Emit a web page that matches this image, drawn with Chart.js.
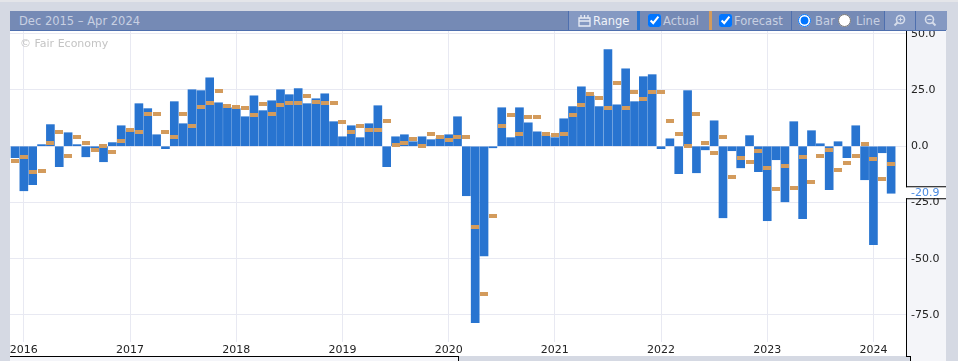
<!DOCTYPE html>
<html>
<head>
<meta charset="utf-8">
<script src="https://cdn.jsdelivr.net/npm/chart.js@4"></script>
<style>
html, body { margin: 0; padding: 0; }
body { width: 958px; height: 361px; overflow: hidden; position: relative; background: #d5d9e3; font-family: "DejaVu Sans", sans-serif; font-size: 11.5px; }
.box { position: absolute; box-sizing: border-box; }
#topo { left: 0; top: 0; width: 958px; height: 2px; background: #e4e5e9; }
#plano { left: 10px; top: 31px; width: 896px; height: 325px; background: #fff; }
#eixoY { left: 906px; top: 31px; width: 40px; height: 330px; background: #f4f5f9; border-left: 1px solid #000; }
#eixoX { left: 10px; top: 356px; width: 449px; height: 5px; background: #f4f5f9; border-top: 1px solid #000; border-right: 1px solid #000; }
#degrau { left: 906px; top: 356px; width: 5px; height: 5px; border-top: 1px solid #000; border-right: 1px solid #000; background: #d5d9e3; }
#grafico { position: absolute; left: 0; top: 0; }
#copy { left: 20px; top: 37px; color: #c4c4c4; font-size: 11px; }
#barra { left: 10px; top: 11px; width: 936px; height: 20px; background: #758ab5; border-bottom: 1px solid #4e6fae; }
#barra span, #barra div, #barra input, #barra svg { position: absolute; }
#barra span { top: 3px; line-height: 14px; color: #c8d0e2; white-space: nowrap; }
#barra input { margin: 0; width: 13px; height: 13px; top: 3px; }
.btn { top: 0; height: 19px; background: #8599c2; border-left: 1px solid #4e6fae; }
.sep { top: 0; width: 1px; height: 19px; background: #4e6fae; }
</style>
</head>
<body>
<div class="box" id="topo"></div>
<div class="box" id="plano"></div>
<div class="box" id="eixoY"></div>
<div class="box" id="eixoX"></div>
<div class="box" id="degrau"></div>
<canvas id="grafico" width="958" height="361"></canvas>
<div class="box" id="copy">© Fair Economy</div>
<div class="box" id="barra">
    <span style="left:9px;font-size:11.5px">Dec 2015 – Apr 2024</span>
    <div class="btn" style="left:558px;width:69px"></div>
    <svg style="left:568px;top:3px" width="13" height="13" viewBox="0 0 13 13"><path d="M1 4h11v8H1zM3 1v3M6.500 1v3M10 1v3M1 7h11" fill="none" stroke="#e8ecf5" stroke-width="1.300"/></svg>
    <span style="left:583px;color:#f0f3f9">Range</span>
    <div style="left:627px;top:0;width:3px;height:19px;background:#2874d0"></div>
    <input type="checkbox" checked style="left:638px">
    <span style="left:653px">Actual</span>
    <div style="left:699px;top:0;width:3px;height:19px;background:#d39b5c"></div>
    <input type="checkbox" checked style="left:709px">
    <span style="left:724px">Forecast</span>
    <div class="sep" style="left:781px"></div>
    <input type="radio" name="tipo" checked style="left:788px">
    <span style="left:805px">Bar</span>
    <input type="radio" name="tipo" style="left:828px">
    <span style="left:846px">Line</span>
    <div class="btn" style="left:874px;width:31px"></div>
    <svg style="left:883px;top:3px" width="13" height="13" viewBox="0 0 13 13"><circle cx="7.500" cy="5.500" r="4" fill="none" stroke="#d5dcea" stroke-width="1.600"/><path d="M4.500 8.500L1.500 11.500" stroke="#d5dcea" stroke-width="2"/><path d="M5.500 5.500h4M7.500 3.500v4" stroke="#d5dcea"/></svg>
    <div class="btn" style="left:905px;width:31px"></div>
    <svg style="left:914px;top:3px" width="13" height="13" viewBox="0 0 13 13"><circle cx="5.500" cy="5.500" r="4" fill="none" stroke="#d5dcea" stroke-width="1.600"/><path d="M8.500 8.500L11.500 11.500" stroke="#d5dcea" stroke-width="2"/><path d="M3.500 5.500h4" stroke="#d5dcea"/></svg>
</div>

<script>
// dados, dez/2015 ate mar/2024

const actualValues = [
    -5.1, -19.8, -17.1, 0.7, 9.6, -9.1, 6, 0.7, -4.7, -0.7, -6.9, 1.6,
    9.1, 6.4, 18.9, 16.7, 5.1, -1.1, 19.8, 10, 25.1, 24.7, 30.4, 19.3,
    17.1, 16.7, 13.1, 22.4, 15.8, 20.2, 25.1, 22.9, 25.6, 18.9, 21.1, 23.3,
    10.9, 4.2, 9.1, 3.8, 10, 18, -9.1, 4.2, 5.1, 2, 4.2, 2.9,
    3.3, 5.1, 13.1, -22, -78.4, -48.7, -0.7, 17.1, 3.8, 17.1, 10.4, 6.4,
    4.7, 3.8, 12.2, 17.6, 26.4, 22.4, 17.6, 42.9, 18.4, 34.4, 19.8, 30.9,
    31.8, -1.1, 3.3, -12.2, 24.7, -11.8, -1.6, 11.3, -31.8, -2, -9.6, 4.7,
    -11.3, -33.1, -6, -24.7, 10.9, -32.2, 6.9, 1.1, -19.3, 2, -5.1, 9.1,
    -14.9, -43.8, -2.9, -20.9
]

const forecastValues = [
    -6.4, -4.7, -11.3, -10.9, 1.6, 6.4, -4.2, 4.2, 1.6, -1.6, 0.2, -2.4,
    2.4, 7.3, 6.4, 14.4, 14.4, 6.4, 4.2, 14.4, 9.1, 17.6, 19.3, 24.7,
    18, 17.6, 17.1, 14, 18.9, 14.4, 18.4, 19.3, 19.3, 22.4, 19.8, 19.3,
    19.3, 10.9, 6.4, 9.1, 7.3, 7.3, 11.3, 0.7, 1.6, 3.3, 0.2, 5.6,
    4.2, 2.9, 4.2, 4.2, -35.8, -65.6, -30.9, 9.1, 14, 5.6, 13.1, 13.1,
    5.6, 5.1, 5.6, 14, 18.4, 23.3, 21.6, 17.1, 28.2, 17.1, 24.2, 21.1,
    24.2, 24.2, 11.3, 5.6, 0.2, 14.4, 1.6, -2.9, 4.2, -13.6, -5.1, -6.9,
    -2, -9.6, -18.9, -8.7, -18.4, -4.7, -15.8, -4.2, -1.6, -10.4, -7.3, -4.2,
    1.1, -5.6, -14.4, -7.8
]

const yearMonths = [1, 13, 25, 37, 49, 61, 73, 85, 97]
const yearLabels = ['2016', '2017', '2018', '2019', '2020', '2021', '2022', '2023', '2024']
const currentLabel = '-20.9'
const currentValue = -20.9

// marcador do forecast
const marca = document.createElement('canvas')
marca.width = 8
marca.height = 4
let ctxM = marca.getContext('2d')
ctxM.fillStyle = '#d39b5c'
ctxM.fillRect(0, 0, 8, 4)

// etiqueta do valor atual em cima do eixo y
const etiqueta = {
    id: 'etiqueta',
    beforeDatasetsDraw(chart) {
        // marcador sem borda borrada
        chart.ctx.imageSmoothingEnabled = false
    },
    afterDraw(chart) {
        let c = chart.ctx
        let y = chart.scales.y.getPixelForValue(currentValue)
        c.save()
        c.fillStyle = '#ffffff'
        c.fillRect(906, y - 6, 40, 11)
        c.fillStyle = '#000'
        c.fillRect(906, y - 7, 40, 1)
        c.fillRect(906, y + 5, 40, 1)
        c.fillStyle = '#4a8ae0'
        c.font = '11px "DejaVu Sans"'
        c.textBaseline = 'middle'
        c.fillText(currentLabel, 911, y)
        c.restore()
    }
}

new Chart(document.getElementById('grafico'), {
    data: {
        datasets: [
            {
                type: 'line',
                label: 'Forecast',
                data: forecastValues.map((v, i) => ({ x: i, y: v })),
                showLine: false,
                pointStyle: marca,
                pointRadius: 4,
                order: 1
            },
            {
                type: 'bar',
                label: 'Actual',
                data: actualValues.map((v, i) => ({ x: i, y: v })),
                backgroundColor: '#2874d0',
                borderWidth: 0,
                barThickness: 8,
                order: 2
            }
        ]
    },
    options: {
        responsive: false,
        animation: false,
        layout: { padding: { left: 10, right: 12, top: 31, bottom: 5 } },
        plugins: {
            legend: { display: false },
            title: { display: false },
            tooltip: { enabled: false }
        },
        scales: {
            x: {
                type: 'linear',
                offset: false,
                min: -0.565,
                max: 100.68,
                afterBuildTicks: (s) => { s.ticks = yearMonths.map(v => ({ value: v })) },
                afterFit: (s) => { s.height = 14 },
                grid: { color: '#e8e9f2', drawTicks: false, offset: false },
                border: { display: false },
                ticks: {
                    autoSkip: false,
                    maxRotation: 0,
                    padding: 2,
                    color: '#222',
                    font: { family: 'DejaVu Sans', size: 11 },
                    callback: (v) => yearLabels[yearMonths.indexOf(v)]
                }
            },
            y: {
                position: 'right',
                min: -87,
                max: 51.2,
                afterFit: (s) => { s.width = 40 },
                grid: { color: '#e8e9f2', drawTicks: false },
                border: { display: false },
                ticks: {
                    stepSize: 25,
                    includeBounds: false,
                    padding: 5,
                    color: '#222',
                    font: { family: 'DejaVu Sans', size: 11 },
                    callback: (v) => v.toFixed(1)
                }
            }
        }
    },
    plugins: [etiqueta]
})
</script>
</body>
</html>
